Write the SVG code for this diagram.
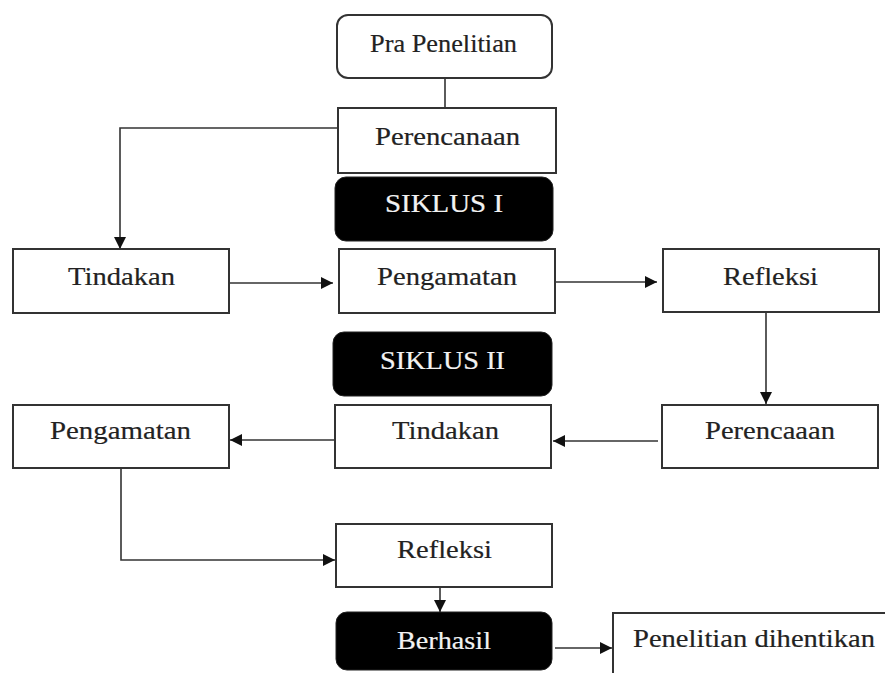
<svg xmlns="http://www.w3.org/2000/svg" width="885" height="673" viewBox="0 0 885 673">
<style>
.box{fill:#fff;stroke:#333;stroke-width:2}
.dark{fill:#000;stroke:#222;stroke-width:1}
.t{font-family:"Liberation Serif","Times New Roman",Times,serif;font-size:26px;fill:#222;stroke:#222;stroke-width:0.2}
.w{font-family:"Liberation Serif","Times New Roman",Times,serif;font-size:26px;fill:#f2f2f2;stroke:#f2f2f2;stroke-width:0.2}
.c{fill:none;stroke:#333;stroke-width:1.6}
</style>
<defs>
<marker id="ah" markerUnits="userSpaceOnUse" markerWidth="14" markerHeight="12" refX="12" refY="6" orient="auto">
<path d="M0,0 L12,6 L0,12 z" fill="#111"/>
</marker>
</defs>
<rect width="885" height="673" fill="#fff"/>
<g id="connectors">
<line class="c" x1="445" y1="78" x2="445" y2="108"/>
<polyline class="c" points="338,128 120,128 120,249" marker-end="url(#ah)"/>
<line class="c" x1="226" y1="283" x2="333" y2="283" marker-end="url(#ah)"/>
<line class="c" x1="550" y1="282" x2="657" y2="282" marker-end="url(#ah)"/>
<line class="c" x1="766" y1="312" x2="766" y2="404" marker-end="url(#ah)"/>
<line class="c" x1="658" y1="441" x2="553" y2="441" marker-end="url(#ah)"/>
<line class="c" x1="335" y1="440" x2="230" y2="440" marker-end="url(#ah)"/>
<polyline class="c" points="121,457 121,560 335,560" marker-end="url(#ah)"/>
<line class="c" x1="440" y1="587" x2="440" y2="612" marker-end="url(#ah)"/>
<line class="c" x1="555" y1="648" x2="612" y2="648" marker-end="url(#ah)"/>
</g>
<g id="pra-penelitian">
<rect class="box" x="337" y="15" width="215" height="63" rx="11"/>
<text class="t" x="370" y="52" textLength="147" lengthAdjust="spacingAndGlyphs">Pra Penelitian</text>
</g>
<g id="perencanaan">
<rect class="box" x="338" y="108" width="218" height="65"/>
<text class="t" x="375" y="145" textLength="145" lengthAdjust="spacingAndGlyphs">Perencanaan</text>
</g>
<g id="siklus-1">
<rect class="dark" x="335" y="177" width="218" height="64" rx="11"/>
<text class="w" x="385" y="212" textLength="118" lengthAdjust="spacingAndGlyphs">SIKLUS I</text>
</g>
<g id="tindakan-1">
<rect class="box" x="13" y="249" width="216" height="64"/>
<text class="t" x="68" y="285" textLength="107" lengthAdjust="spacingAndGlyphs">Tindakan</text>
</g>
<g id="pengamatan-1">
<rect class="box" x="339" y="249" width="216" height="64"/>
<text class="t" x="377" y="285" textLength="140" lengthAdjust="spacingAndGlyphs">Pengamatan</text>
</g>
<g id="refleksi-1">
<rect class="box" x="663" y="249" width="216" height="63"/>
<text class="t" x="723" y="285" textLength="95" lengthAdjust="spacingAndGlyphs">Refleksi</text>
</g>
<g id="siklus-2">
<rect class="dark" x="333" y="332" width="219" height="64" rx="11"/>
<text class="w" x="380" y="369" textLength="125" lengthAdjust="spacingAndGlyphs">SIKLUS II</text>
</g>
<g id="perencaaan">
<rect class="box" x="662" y="405" width="216" height="63"/>
<text class="t" x="705" y="439" textLength="130" lengthAdjust="spacingAndGlyphs">Perencaaan</text>
</g>
<g id="tindakan-2">
<rect class="box" x="335" y="405" width="216" height="63"/>
<text class="t" x="392" y="439" textLength="107" lengthAdjust="spacingAndGlyphs">Tindakan</text>
</g>
<g id="pengamatan-2">
<rect class="box" x="13" y="405" width="216" height="63"/>
<text class="t" x="50" y="439" textLength="141" lengthAdjust="spacingAndGlyphs">Pengamatan</text>
</g>
<g id="refleksi-2">
<rect class="box" x="336" y="524" width="216" height="63"/>
<text class="t" x="397" y="558" textLength="95" lengthAdjust="spacingAndGlyphs">Refleksi</text>
</g>
<g id="berhasil">
<rect class="dark" x="336" y="612" width="216" height="58" rx="11"/>
<text class="w" x="397" y="649" textLength="94" lengthAdjust="spacingAndGlyphs">Berhasil</text>
</g>
<g id="penelitian-dihentikan">
<rect class="box" x="613" y="613" width="290" height="80"/>
<text class="t" x="633" y="647" textLength="242" lengthAdjust="spacingAndGlyphs">Penelitian dihentikan</text>
</g>
</svg>
